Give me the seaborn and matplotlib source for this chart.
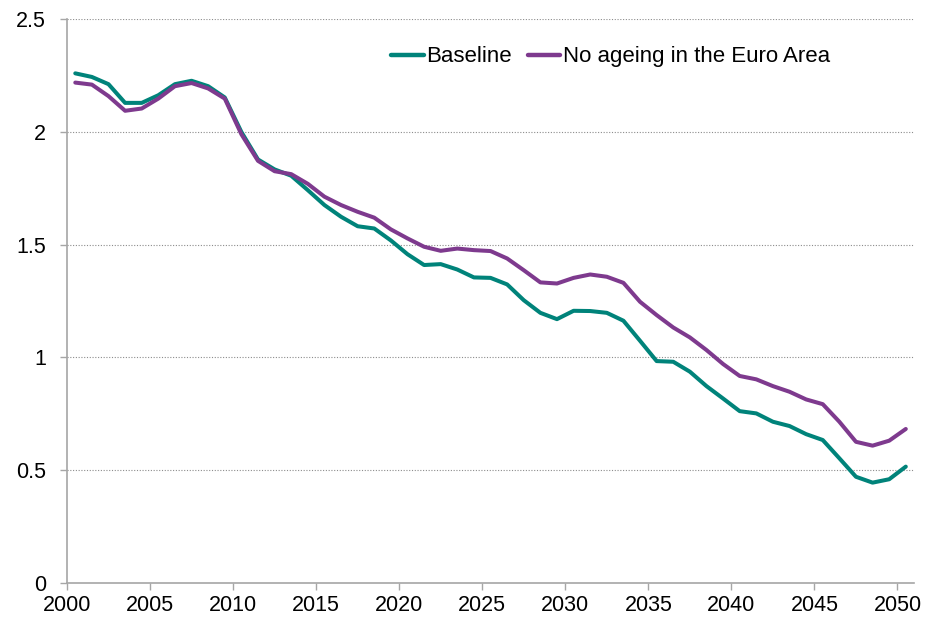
import numpy as np
import pandas as pd
import matplotlib
matplotlib.use("Agg")
import matplotlib.pyplot as plt
import seaborn as sns

years = list(range(2000, 2051))

baseline = [2.26, 2.244, 2.212, 2.129, 2.129, 2.163, 2.212, 2.227, 2.203, 2.153,
            2.0, 1.878, 1.834, 1.806, 1.742, 1.676, 1.624, 1.582, 1.572, 1.519,
            1.458, 1.41, 1.414, 1.39, 1.355, 1.353, 1.324, 1.254, 1.198, 1.17,
            1.207, 1.206, 1.198, 1.163, 1.074, 0.984, 0.981, 0.937, 0.873, 0.818,
            0.762, 0.752, 0.715, 0.696, 0.66, 0.634, 0.553, 0.471, 0.445, 0.46,
            0.516]

no_ageing = [2.219, 2.21, 2.159, 2.094, 2.104, 2.148, 2.203, 2.217, 2.193, 2.148,
             1.99, 1.872, 1.826, 1.813, 1.77, 1.713, 1.676, 1.646, 1.62, 1.568,
             1.528, 1.491, 1.473, 1.483, 1.476, 1.472, 1.439, 1.387, 1.333, 1.328,
             1.353, 1.368, 1.358, 1.331, 1.247, 1.188, 1.133, 1.089, 1.033, 0.971,
             0.918, 0.903, 0.873, 0.848, 0.814, 0.793, 0.715, 0.626, 0.609, 0.631,
             0.683]

series_names = ["Baseline", "No ageing in the Euro Area"]
colors = ["#00837A", "#7E3A8E"]
y_ticks = [0, 0.5, 1, 1.5, 2, 2.5]
y_labels = ["0", "0.5", "1", "1.5", "2", "2.5"]
x_ticks = list(range(2000, 2051, 5))

df = pd.DataFrame({
    "year": years * 2,
    "value": baseline + no_ageing,
    "series": [series_names[0]] * len(years) + [series_names[1]] * len(years),
})
# Excel style category axis: each point sits in the middle of its year slot
df["xpos"] = df["year"] + 0.5

sns.set_style("white")
plt.rcParams["font.family"] = ["Liberation Sans", "DejaVu Sans"]
plt.rcParams["text.color"] = "black"

fig = plt.figure(figsize=(9.34, 6.2), dpi=100)
ax = fig.add_axes([0.0717, 0.0597, 0.907, 0.9093])

sns.lineplot(data=df, x="xpos", y="value", hue="series", hue_order=series_names,
             palette=colors, linewidth=2.9, ax=ax)

ax.set_xlim(2000, 2051)
ax.set_ylim(0, 2.5)
ax.set_yticks(y_ticks)
ax.set_yticklabels(y_labels)
ax.set_xticks(x_ticks)
ax.set_xticklabels([str(t) for t in x_ticks])
ax.set_xlabel("")
ax.set_ylabel("")

for y in y_ticks[1:]:
    ax.axhline(y, color="#8C8C8C", linestyle=(0, (1, 1.5)), linewidth=0.8, zorder=0)

for s in ["top", "right"]:
    ax.spines[s].set_visible(False)
for s in ["left", "bottom"]:
    ax.spines[s].set_color("#A6A6A6")
    ax.spines[s].set_linewidth(1.2)

ax.tick_params(axis="both", which="major", labelsize=15.5, color="#A6A6A6",
               length=5, width=1, direction="out", left=True, bottom=True,
               labelcolor="black")
ax.tick_params(axis="x", pad=4)
ax.tick_params(axis="y", pad=10)

leg = ax.legend(loc="center left", bbox_to_anchor=(0.383, 0.933), ncol=2, frameon=False,
                fontsize=16, handlelength=1.45, handletextpad=0.1, columnspacing=0.75,
                borderaxespad=0, borderpad=0)
for line in leg.get_lines():
    line.set_linewidth(3.2)
for t in leg.get_texts():
    t.set_color("black")

fig.savefig("out.png", dpi=100)
